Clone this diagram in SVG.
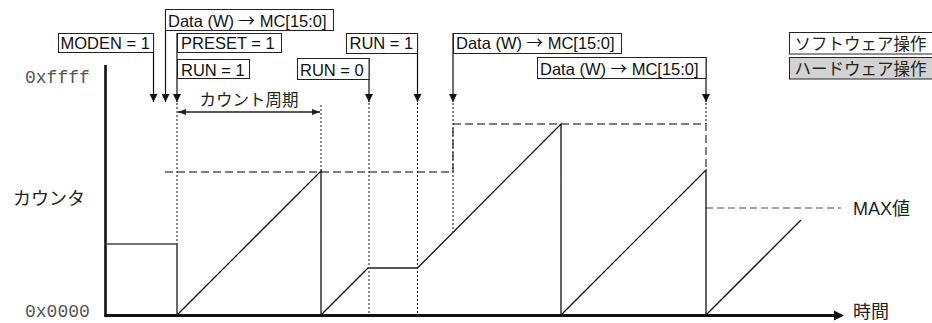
<svg xmlns="http://www.w3.org/2000/svg" width="932" height="323" viewBox="0 0 932 323">
<style>
.box{fill:#fff;stroke:#222;stroke-width:1}
.hw{fill:#d2d2d2;stroke:#222;stroke-width:1}
.lbl{font-family:"Liberation Sans",Arial,sans-serif;font-size:16.5px;fill:#111}
.arr{font-family:"Noto Sans CJK JP","DejaVu Sans",sans-serif}
.jp{font-family:"Noto Sans CJK JP","Liberation Sans",sans-serif;fill:#222}
.mono{font-family:"Liberation Mono","Courier New",monospace;font-size:18px;fill:#555}
.conn{fill:none;stroke:#111;stroke-width:1.2}
.dot{fill:none;stroke:#111;stroke-width:1;stroke-dasharray:2 2}
.dash{fill:none;stroke:#808080;stroke-width:2;stroke-dasharray:8 4}
.dash2{fill:none;stroke:#888;stroke-width:1.5;stroke-dasharray:7 4}
.wave{fill:none;stroke:#111;stroke-width:1.3}
</style>
<defs>
<marker id="ah" markerUnits="userSpaceOnUse" markerWidth="8" markerHeight="8" refX="8" refY="4" orient="auto"><path d="M0,0 L8,4 L0,8 z" fill="#111"/></marker>
<marker id="ah2" markerUnits="userSpaceOnUse" markerWidth="8" markerHeight="6" refX="8" refY="3" orient="auto-start-reverse"><path d="M0,0 L8,3 L0,6 z" fill="#222"/></marker>
</defs>

<!-- axes -->
<line x1="105.5" y1="65" x2="105.5" y2="316.5" stroke="#111" stroke-width="2.6"/>
<line x1="104.2" y1="315.5" x2="836" y2="315.5" stroke="#111" stroke-width="2.8"/>
<polygon points="834,310.5 844,315.5 834,320.5" fill="#111"/>
<text class="mono" x="25" y="83">0xffff</text>
<text class="mono" x="25" y="317">0x0000</text>
<text class="jp" x="13" y="205" font-size="18">カウンタ</text>
<text class="jp" x="853" y="318" font-size="18">時間</text>
<text class="jp" x="853" y="214.5" font-size="18"><tspan font-family="Liberation Sans,Arial,sans-serif">MAX</tspan>値</text>

<!-- max value dashed lines -->
<path class="dash" d="M165,172 H453 V124 H706 V170"/>
<path class="dash2" d="M706,208 H841"/>

<!-- dotted time markers -->
<path class="dot" d="M177,103 V244 M321,105 V172 M369,103 V315 M417.5,103 V315 M453,103 V232 M706,103 V124"/>

<!-- counter waveform -->
<path d="M105,244 H177 V315" fill="none" stroke="#444" stroke-width="1.6"/>
<path class="wave" d="M177,315 L321,171 V315"/>
<path class="wave" d="M321,315 L368,268"/>
<path d="M368,268 H417.5" fill="none" stroke="#555" stroke-width="2"/>
<path class="wave" d="M417.5,268 L561,124 V315"/>
<path class="wave" d="M561,315 L706,170 V315"/>
<path class="wave" d="M706,315 L801,220"/>

<!-- count period -->
<line x1="178" y1="112" x2="320" y2="112" stroke="#222" stroke-width="1.3" marker-start="url(#ah2)" marker-end="url(#ah2)"/>
<text class="jp" x="249" y="106" font-size="16.5" text-anchor="middle">カウント周期</text>

<!-- connectors -->
<g id="connectors">
<path class="conn" d="M153.5,33 V102" marker-end="url(#ah)"/>
<path class="conn" d="M165.5,9 V102" marker-end="url(#ah)"/>
<path class="conn" d="M177,33 V102" marker-end="url(#ah)"/>
<path class="conn" d="M369,58 V102" marker-end="url(#ah)"/>
<path class="conn" d="M417.5,33 V102" marker-end="url(#ah)"/>
<path class="conn" d="M453,33 V102" marker-end="url(#ah)"/>
<path class="conn" d="M706,57 V102" marker-end="url(#ah)"/>
</g>

<!-- nodes -->
<g id="n-data1"><rect class="box" x="165.5" y="9.5" width="168" height="21"/><text class="lbl" x="168" y="26.5">Data (W) <tspan class="arr">→</tspan> MC[15:0]</text></g>
<g id="n-moden"><rect class="box" x="58.5" y="33.5" width="95" height="19"/><text class="lbl" x="60.5" y="48.5">MODEN = 1</text></g>
<g id="n-preset"><rect class="box" x="177.5" y="33.5" width="104" height="19"/><text class="lbl" x="181" y="48.5">PRESET = 1</text></g>
<g id="n-run1a"><rect class="box" x="177.5" y="59.5" width="72" height="19"/><text class="lbl" x="181" y="75.5">RUN = 1</text></g>
<g id="n-run0"><rect class="box" x="297.5" y="58.5" width="71.5" height="21"/><text class="lbl" x="300" y="75.5">RUN = 0</text></g>
<g id="n-run1b"><rect class="box" x="346.5" y="33.5" width="71" height="20"/><text class="lbl" x="349.5" y="49">RUN = 1</text></g>
<g id="n-data2"><rect class="box" x="453.5" y="33.5" width="168" height="20"/><text class="lbl" x="456" y="49">Data (W) <tspan class="arr">→</tspan> MC[15:0]</text></g>
<g id="n-data3"><rect class="box" x="537.5" y="57.5" width="168.5" height="21"/><text class="lbl" x="540" y="74.5">Data (W) <tspan class="arr">→</tspan> MC[15:0]</text></g>

<!-- legend -->
<g id="legend-sw"><rect class="box" x="789.5" y="32.5" width="150" height="21.5"/><text class="jp" x="794.5" y="50" font-size="16.5">ソフトウェア操作</text></g>
<g id="legend-hw"><rect class="hw" x="789.5" y="57.5" width="150" height="21.5"/><text class="jp" x="794.5" y="75" font-size="16.5">ハードウェア操作</text></g>
</svg>
